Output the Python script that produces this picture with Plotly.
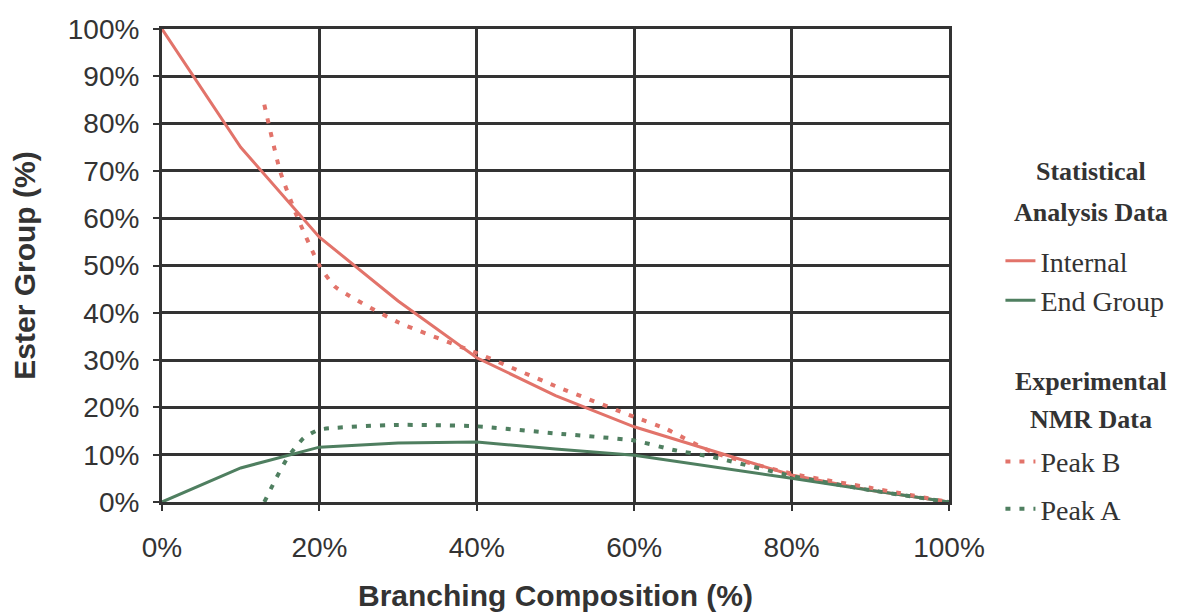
import plotly.graph_objects as go

# Data (percent)
x_stat = [0, 10, 20, 30, 40, 50, 60, 70, 80, 90, 100]
internal = [100, 75, 56, 42.5, 30.5, 22.5, 15.9, 10.8, 5.7, 2.5, 0]
end_group = [0, 7.2, 11.6, 12.5, 12.7, 11.2, 9.9, 7.5, 5, 2.5, 0]

x_peak_b = [13, 15, 17, 20, 22, 30, 40, 50, 60, 64, 70, 80, 90, 100]
peak_b = [84, 70, 61, 50, 45.5, 38, 31.5, 24.5, 18, 15.5, 10.5, 6, 3, 0]

x_peak_a = [13, 14.5, 16, 18, 20, 30, 40, 50, 60, 65, 70, 80, 90, 100]
peak_a = [0, 5, 9.5, 13.5, 15.3, 16.3, 16, 14.5, 13, 11, 9.5, 5.5, 2.5, 0]

x_ticks = [0, 20, 40, 60, 80, 100]
y_ticks = [0, 10, 20, 30, 40, 50, 60, 70, 80, 90, 100]
x_ticktext = [f"{v}%" for v in x_ticks]
y_ticktext = [f"{v}%" for v in y_ticks]

RED = "#E2736A"
GREEN = "#4F7F60"
INK = "#333333"
SANS = "Liberation Sans, Arial, sans-serif"
SERIF = "Liberation Serif, Times New Roman, serif"

fig = go.Figure()
fig.add_trace(go.Scatter(x=x_stat, y=internal, mode="lines", name="Internal",
                         line=dict(color=RED, width=3), legend="legend", legendgroup="a"))
fig.add_trace(go.Scatter(x=x_stat, y=end_group, mode="lines", name="End Group",
                         line=dict(color=GREEN, width=3), legend="legend", legendgroup="b"))
fig.add_trace(go.Scatter(x=x_peak_b, y=peak_b, mode="lines", name="Peak B",
                         line=dict(color=RED, width=4, dash="5px,9px", shape="spline", smoothing=0.5),
                         legend="legend2", legendgroup="c"))
fig.add_trace(go.Scatter(x=x_peak_a, y=peak_a, mode="lines", name="Peak A",
                         line=dict(color=GREEN, width=4, dash="5px,9px", shape="spline", smoothing=0.5),
                         legend="legend2", legendgroup="d"))

axis_common = dict(
    showgrid=True, gridcolor=INK, gridwidth=3,
    showline=True, linecolor=INK, linewidth=3, mirror=True,
    ticks="outside", ticklen=6, tickwidth=2, tickcolor=INK,
    zeroline=False, automargin=False,
    tickfont=dict(family=SANS, size=28, color=INK),
)

title_lines = [
    ("<b>Statistical</b>", 0.6977),
    ("<b>Analysis Data</b>", 0.6131),
    ("<b>Experimental</b>", 0.2537),
    ("<b>NMR Data</b>", 0.1734),
]

fig.update_layout(
    width=1172, height=604,
    margin=dict(l=154, r=230, t=21, b=110),
    paper_bgcolor="white", plot_bgcolor="white",
    xaxis=dict(range=[0, 100], tickvals=x_ticks, ticktext=x_ticktext, ticklabelstandoff=12,
               title=dict(text="<b>Branching Composition (%)</b>", standoff=25,
                          font=dict(family=SANS, size=30, color=INK)),
               **axis_common),
    yaxis=dict(range=[0, 100], tickvals=y_ticks, ticktext=y_ticktext, ticklabelstandoff=8,
               title=dict(text="<b>Ester Group (%)</b>", standoff=28,
                          font=dict(family=SANS, size=30, color=INK)),
               **axis_common),
    legend=dict(x=1.064, y=0.562, xanchor="left", yanchor="top",
                font=dict(family=SERIF, size=28, color=INK),
                tracegroupgap=0, itemwidth=30, bgcolor="rgba(0,0,0,0)"),
    legend2=dict(x=1.064, y=0.138, xanchor="left", yanchor="top",
                 font=dict(family=SERIF, size=28, color=INK),
                 tracegroupgap=8, itemwidth=30, bgcolor="rgba(0,0,0,0)"),
    annotations=[
        dict(text=t, xref="paper", yref="paper", x=1.181, y=yy,
             xanchor="center", yanchor="middle", showarrow=False,
             font=dict(family=SERIF, size=26, color=INK))
        for t, yy in title_lines
    ],
    showlegend=True,
)

fig.write_html("out.html")
